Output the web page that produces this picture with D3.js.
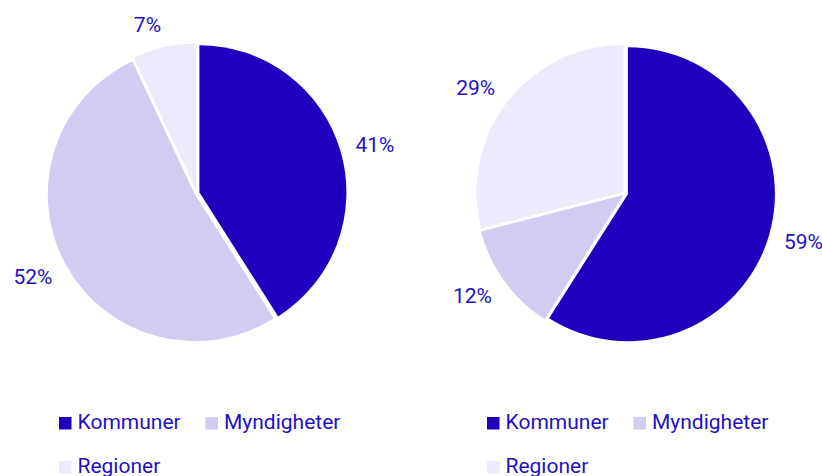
<!DOCTYPE html>
<html>
<head>
<meta charset="utf-8">
<script src="https://cdn.jsdelivr.net/npm/d3@7"></script>
<style>
  html, body { margin: 0; padding: 0; background: #fff; }
  svg { display: block; font-family: Roboto, "Noto Sans", sans-serif; }
</style>
</head>
<body>
<svg id="chart" width="822" height="476"></svg>
<script>
const categories = ["Kommuner", "Myndigheter", "Regioner"];
const leftValues = [41, 52, 7];
const rightValues = [59, 12, 29];
const colors = ["#1e00be", "#d1ccf1", "#ecebfc"];
const textColor = "#2410c2";

const svg = d3.select("#chart");

const color = d3.scaleOrdinal().domain(categories).range(colors);

function drawPie(values, cx, cy, legendX) {
  const r = 147;
  const explode = 2.5;
  const data = categories.map((c, i) => ({ name: c, value: values[i] }));
  const pie = d3.pie().sort(null).value(d => d.value);
  const arc = d3.arc().innerRadius(0).outerRadius(r);
  const arcs = pie(data);
  const g = svg.append("g").attr("transform", `translate(${cx},${cy})`);

  g.selectAll("path.slice").data(arcs).join("path")
    .attr("class", "slice")
    .attr("d", arc)
    .attr("fill", d => color(d.data.name))
    .attr("transform", d => {
      const a = (d.startAngle + d.endAngle) / 2;
      return `translate(${explode * Math.sin(a)},${-explode * Math.cos(a)})`;
    });

  g.selectAll("text.lbl").data(arcs).join("text")
    .attr("class", "lbl")
    .attr("x", d => 165 * Math.sin((d.startAngle + d.endAngle) / 2))
    .attr("y", d => -173 * Math.cos((d.startAngle + d.endAngle) / 2))
    .attr("dy", "0.35em")
    .attr("text-anchor", d => Math.sin((d.startAngle + d.endAngle) / 2) >= 0 ? "start" : "end")
    .attr("fill", textColor)
    .attr("font-size", 21)
    .text(d => d.data.value + "%");

  // legend
  const lg = svg.append("g");
  const positions = [[0, 0], [146.5, 0], [0, 44]];
  categories.forEach((c, i) => {
    const [dx, dy] = positions[i];
    const item = lg.append("g").attr("transform", `translate(${legendX + dx},${429 + dy})`);
    item.append("rect").attr("x", 0).attr("y", -12).attr("width", 12.5).attr("height", 12.5)
      .attr("fill", color(c));
    item.append("text").attr("x", 18.5).attr("y", 0)
      .attr("fill", textColor).attr("font-size", 21).text(c);
  });
}

drawPie(leftValues, 197, 193, 59);
drawPie(rightValues, 625.5, 193.5, 487);
</script>
</body>
</html>
